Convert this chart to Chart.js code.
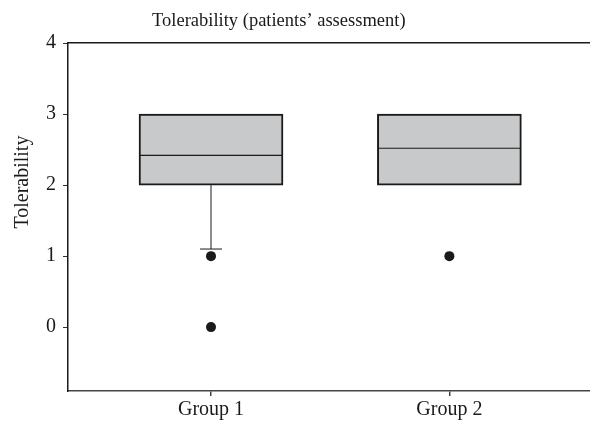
<!DOCTYPE html>
<html>
<head>
<meta charset="utf-8">
<script src="https://cdn.jsdelivr.net/npm/chart.js@4/dist/chart.umd.min.js"></script>
<style>
html,body{margin:0;padding:0;background:#fff;}
#wrap{width:590px;height:424px;}
</style>
</head>
<body>
<div id="wrap"><canvas id="c" width="590" height="424"></canvas></div>
<script>
const categories = ['Group 1', 'Group 2'];
const q1 = [2, 2];
const q3 = [3, 3];
const medians = [2.42, 2.52];
const whiskerLow = [1.1, 2];
const whiskerHigh = [3, 3];
const outliers = [[1, 0], [1]];
const yTicks = [0, 1, 2, 3, 4];

const FONT = "'Liberation Serif', 'DejaVu Serif', serif";
const INK = '#1a1a1a';

const boxExtras = {
  id: 'boxExtras',
  afterDatasetsDraw(chart) {
    const ctx = chart.ctx;
    const y = chart.scales.y;
    const meta = chart.getDatasetMeta(0);
    ctx.save();
    ctx.strokeStyle = INK;
    meta.data.forEach((bar, i) => {
      const half = bar.width / 2;
      const cx = bar.x;
      ctx.lineWidth = 1.2;
      const my = y.getPixelForValue(medians[i]);
      ctx.beginPath();
      ctx.moveTo(cx - half + 1, my);
      ctx.lineTo(cx + half - 1, my);
      ctx.stroke();
      const cap = 11;
      const drawWhisker = (from, to) => {
        const a = y.getPixelForValue(from);
        const b = y.getPixelForValue(to);
        ctx.lineWidth = 1;
        ctx.beginPath();
        ctx.moveTo(cx, a);
        ctx.lineTo(cx, b);
        ctx.moveTo(cx - cap, b);
        ctx.lineTo(cx + cap, b);
        ctx.stroke();
      };
      if (whiskerLow[i] < q1[i]) drawWhisker(q1[i], whiskerLow[i]);
      if (whiskerHigh[i] > q3[i]) drawWhisker(q3[i], whiskerHigh[i]);
    });
    ctx.restore();
  }
};

const boxData = categories.map((c, i) => ({ x: i + 1, y: [q1[i], q3[i]] }));
const outlierData = [];
outliers.forEach((arr, i) => arr.forEach(v => outlierData.push({ x: i + 1, y: v })));

new Chart(document.getElementById('c'), {
  type: 'bar',
  data: {
    datasets: [
      {
        type: 'bar',
        data: boxData,
        backgroundColor: '#c8c9cb',
        borderColor: INK,
        borderWidth: 2,
        borderSkipped: false,
        barThickness: 144,
        order: 2
      },
      {
        type: 'scatter',
        data: outlierData,
        pointRadius: 5,
        pointHoverRadius: 5,
        backgroundColor: INK,
        borderColor: INK,
        borderWidth: 0,
        order: 1
      }
    ]
  },
  options: {
    responsive: false,
    animation: false,
    devicePixelRatio: 1,
    layout: { autoPadding: false, padding: { left: 0, right: 0, top: 0, bottom: 0 } },
    plugins: {
      legend: { display: false },
      tooltip: { enabled: false },
      title: {
        display: true,
        text: 'Tolerability (patients\u2019 assessment)       ',
        color: INK,
        font: { family: FONT, size: 18.5, weight: 'normal' },
        padding: { top: 10, bottom: 3 }
      }
    },
    scales: {
      x: {
        type: 'linear',
        position: 'bottom',
        offset: false,
        min: 0.4,
        max: 2.59,
        afterBuildTicks: (s) => { s.ticks = categories.map((c, i) => ({ value: i + 1 })); },
        ticks: {
          callback: (v) => categories[v - 1],
          color: INK,
          font: { family: FONT, size: 20 },
          padding: 2,
          maxRotation: 0
        },
        grid: { display: true, offset: false, drawOnChartArea: false, tickLength: 5, color: '#444', lineWidth: 1.5 },
        border: { display: true, color: '#444', width: 1.5 }
      },
      xTop: {
        type: 'linear',
        position: 'top',
        offset: false,
        min: 0.4,
        max: 2.59,
        ticks: { display: false },
        grid: { display: false, offset: false },
        border: { display: true, color: INK, width: 1.5 }
      },
      y: {
        type: 'linear',
        min: -0.9,
        max: 4,
        afterBuildTicks: (s) => { s.ticks = yTicks.map(v => ({ value: v })); },
        ticks: {
          color: INK,
          font: { family: FONT, size: 20 },
          padding: 7
        },
        grid: { display: true, drawOnChartArea: false, tickLength: 5, color: '#333', lineWidth: 1 },
        border: { display: true, color: INK, width: 1.5 },
        title: {
          display: true,
          text: '              Tolerability',
          color: INK,
          font: { family: FONT, size: 20 },
          padding: { top: 11, bottom: 4 }
        }
      }
    }
  },
  plugins: [boxExtras]
});
</script>
</body>
</html>
